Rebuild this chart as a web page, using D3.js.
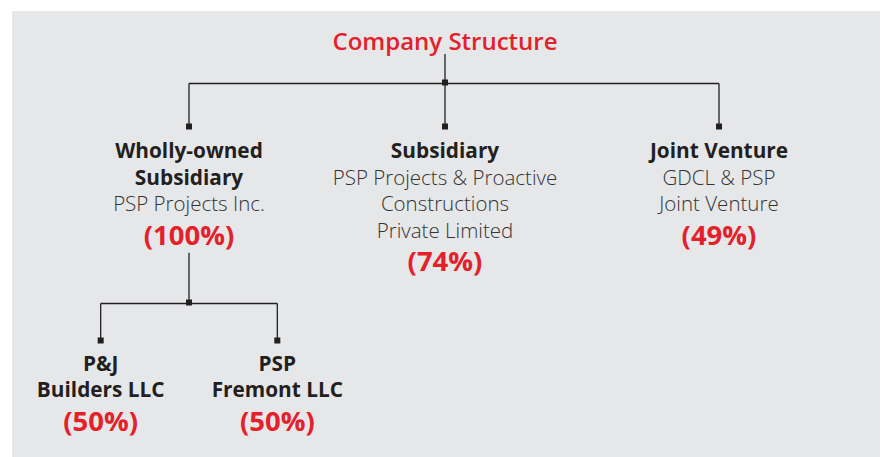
<!DOCTYPE html>
<html><head><meta charset="utf-8">
<script src="https://cdn.jsdelivr.net/npm/d3@7/dist/d3.min.js"></script>
<style>html,body{margin:0;padding:0;background:#fff;}svg{display:block;}</style>
</head><body>
<svg id="chart" width="888" height="457"></svg>
<script>
// ---- data ----
const nodeIds     = ["root", "wholly", "sub", "jv", "pj", "pf"];
const parentIds   = ["", "root", "root", "root", "wholly", "wholly"];
const headLines   = [["Company Structure"], ["Wholly-owned", "Subsidiary"], ["Subsidiary"], ["Joint Venture"], ["P&J", "Builders LLC"], ["PSP", "Fremont LLC"]];
const detailLines = [[], ["PSP Projects Inc."], ["PSP Projects & Proactive", "Constructions", "Private Limited"], ["GDCL & PSP", "Joint Venture"], [], []];
const shareValues = [null, 100, 74, 49, 50, 50];

// ---- styles / layout ----
const RED = "#e4202a", DARK = "#231f20", GREY = "#333333", PANEL = "#e6e7e8";
const FONT = "'Open Sans', 'Noto Sans', sans-serif";
const layout = {
  titleBaseline: 49.5,
  rootBottom: 54,
  barY: {0: 83.5, 1: 303.5},
  squareY: {1: 126.5, 2: 340.5},
  firstBaseline: {1: 158, 2: 370.7},
  lineStep: 26.6,
  shareGap: 33.5,
  sq: 6
};

const svg = d3.select("#chart");
svg.append("rect").attr("x", 12).attr("y", 11).attr("width", 868).attr("height", 446).attr("fill", PANEL);

const table = nodeIds.map((id, i) => ({id, parent: parentIds[i] || null, head: headLines[i], detail: detailLines[i], share: shareValues[i]}));
const root = d3.stratify().id(d => d.id).parentId(d => d.parent)(table);
d3.tree().nodeSize([1, 1]).separation((a, b) => (a.parent === b.parent && a.depth === 2) ? 0.69 : 1)(root);

const x = d3.scaleLinear().domain([-1, 0, 1]).range([189, 445, 719]);

const g = svg.append("g");
const lines = g.append("g").attr("stroke", DARK).attr("stroke-width", 1.3).attr("fill", "none");
const squares = g.append("g").attr("fill", DARK);
const texts = g.append("g").attr("text-anchor", "middle").attr("font-family", FONT);

function bottomOf(node) {
  if (node.depth === 0) return layout.rootBottom;
  const d = node.data;
  const n = d.head.length + d.detail.length;
  return layout.firstBaseline[node.depth] + (n - 1) * layout.lineStep + layout.shareGap + 8;
}

// text
root.each(node => {
  const d = node.data, cx = x(node.x);
  if (node.depth === 0) {
    texts.append("text").attr("x", cx).attr("y", layout.titleBaseline)
      .attr("font-size", 24).attr("font-weight", 600).attr("fill", RED).text(d.head[0]);
    return;
  }
  let y = layout.firstBaseline[node.depth];
  d.head.forEach(t => {
    texts.append("text").attr("x", cx).attr("y", y).attr("font-size", 20.8).attr("font-weight", 700).attr("fill", DARK).text(t);
    y += layout.lineStep;
  });
  d.detail.forEach(t => {
    texts.append("text").attr("x", cx).attr("y", y).attr("font-size", 20.5).attr("font-weight", 300).attr("fill", GREY).text(t);
    y += layout.lineStep;
  });
  y += layout.shareGap - layout.lineStep;
  texts.append("text").attr("x", cx).attr("y", y).attr("font-size", 27.5).attr("font-weight", 700).attr("fill", RED)
    .text("(" + d.share + "%)");
});

// connectors
root.each(node => {
  if (!node.children) return;
  const px = x(node.x), barY = layout.barY[node.depth];
  const cy = layout.squareY[node.depth + 1];
  lines.append("line").attr("x1", px).attr("x2", px).attr("y1", bottomOf(node)).attr("y2", barY);
  const xs = node.children.map(c => x(c.x));
  lines.append("line").attr("x1", d3.min(xs)).attr("x2", d3.max(xs)).attr("y1", barY).attr("y2", barY);
  squares.append("rect").attr("x", px - layout.sq / 2).attr("y", barY - layout.sq / 2 - 1).attr("width", layout.sq).attr("height", layout.sq);
  node.children.forEach(c => {
    const cx = x(c.x);
    lines.append("line").attr("x1", cx).attr("x2", cx).attr("y1", barY).attr("y2", cy);
    squares.append("rect").attr("x", cx - layout.sq / 2).attr("y", cy - layout.sq / 2).attr("width", layout.sq).attr("height", layout.sq);
  });
});
</script>
</body></html>
